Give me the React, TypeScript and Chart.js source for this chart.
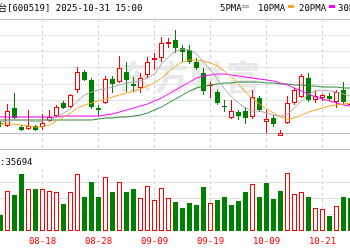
import React, { useEffect, useRef } from "react";
import { Chart, registerables } from "chart.js";

Chart.register(...registerables);

// ---- data (trading days 08-06 .. 10-28) ----
const days = [
  "08-06","08-07","08-08","08-11","08-12","08-13","08-14","08-15",
  "08-18","08-19","08-20","08-21","08-22","08-25","08-26","08-27",
  "08-28","08-29","09-01","09-02","09-03","09-04","09-05","09-08",
  "09-09","09-10","09-11","09-12","09-15","09-16","09-17","09-18",
  "09-19","09-22","09-23","09-24","09-25","09-26","09-29","09-30",
  "10-09","10-10","10-13","10-14","10-15","10-16","10-17","10-20",
  "10-21","10-22","10-23","10-24","10-27","10-28",
];
const tickDays = ["08-18", "08-28", "09-09", "09-19", "10-09", "10-21"];

const openP = [
  1460, 1460.5, 1458.5, 1457, 1466, 1456.5, 1455.5, 1457,
  1456.5, 1459.5, 1462, 1468.5, 1466.5, 1475, 1484, 1480,
  1466, 1468.5, 1480.5, 1479, 1484, 1478, 1476, 1482.5,
  1490, 1491, 1498, 1500, 1496, 1495, 1489, 1483.5,
  1477, 1474, 1467, 1461, 1464, 1464.5, 1461.5, 1471,
  1459, 1461, 1452, 1458.5, 1468.5, 1471.5, 1481, 1470,
  1471, 1472, 1469, 1475, 1467.5, null,
];
const highP = [
  1462, 1461.5, 1459.5, 1468, 1473.5, 1457.5, 1465, 1457.5,
  1463, 1465, 1467.5, 1469.5, 1473, 1486.5, 1485, 1481,
  1467.5, 1482, 1482, 1492, 1489, 1481.5, 1483.5, 1491.5,
  1493.5, 1501.5, 1501, 1505, 1497.5, 1497.5, 1491, 1486,
  1479, 1475, 1470, 1470, 1465, 1466.5, 1475, 1472,
  1465, 1462.5, 1455, 1472, 1476, 1483, 1483.5, 1475,
  1473, 1473.5, 1475, 1479, 1468.5, null,
];
const lowP = [
  1459, 1458, 1456.5, 1456.5, 1460.5, 1454.5, 1455, 1454.5,
  1455, 1459, 1461.5, 1465.5, 1466, 1473.5, 1479.5, 1465.5,
  1462, 1468, 1473.5, 1478.5, 1474, 1474, 1473.5, 1481,
  1485, 1489, 1496, 1493.5, 1489, 1488, 1485, 1472.5,
  1471, 1467.5, 1464, 1460.5, 1460, 1458, 1460.5, 1464,
  1453.5, 1456.5, 1452, 1458, 1467.5, 1471, 1469, 1468.5,
  1469.5, 1469.5, 1466, 1468, 1467, null,
];
const closeP = [
  1461, 1459, 1458, 1464.5, 1461, 1455, 1457, 1455,
  1458.5, 1461.5, 1466.5, 1466, 1472.5, 1484, 1480, 1466.5,
  1465, 1480.5, 1478, 1486, 1480, 1477, 1481, 1489,
  1491, 1498.5, 1499, 1496, 1494, 1489, 1486, 1474.5,
  1477.5, 1468.5, 1466.5, 1464.5, 1462, 1461, 1471.5, 1465,
  1460.5, 1458, 1453.5, 1468.5, 1475, 1482, 1470, 1472,
  1472.5, 1470.5, 1474, 1469, 1468, null,
];
const volume = [
  30000, 35000, 16000, 40000, 36000, 57000, 42000, 42000,
  42000, 40000, 39000, 27000, 39000, 57000, 34000, 49000,
  34000, 54000, 39000, 49000, 39000, 42000, 33000, 45000,
  31000, 43000, 33000, 29000, 23000, 28000, 26000, 44000,
  28000, 31000, 34000, 26000, 30000, 39000, 47000, 34000,
  48000, 32000, 40000, 58000, 37000, 39000, 34000, 23000,
  22000, 15000, 25000, 34000, 33000, null,
];
const ma5 = [
  1458.5, 1458.5, 1459, 1459.5, 1460, 1460, 1459.5, 1459,
  1459.5, 1460, 1461.5, 1463.5, 1465.5, 1469.5, 1472.5, 1474,
  1475, 1475.5, 1476.5, 1477.5, 1478.5, 1479, 1479.5, 1481,
  1483, 1488, 1491.5, 1494.5, 1495.5, 1495, 1493, 1489,
  1485, 1480.5, 1475.5, 1471.5, 1468.5, 1466, 1464.5, 1464.5,
  1463.5, 1462.5, 1462, 1463, 1466, 1469.5, 1473, 1474.5,
  1475, 1474.5, 1474, 1473, 1472, 1471.5,
];
const ma10 = [
  1458, 1458, 1458, 1458, 1458, 1457.5, 1457, 1456.5,
  1456.5, 1457.5, 1459.5, 1461.5, 1463.5, 1466, 1467.5, 1468.5,
  1469.5, 1470.5, 1471.5, 1472.5, 1473.5, 1474.5, 1475.5, 1477,
  1478.5, 1481, 1484, 1487, 1489, 1490, 1490, 1489.5,
  1488.5, 1487, 1484.5, 1481.5, 1478, 1474, 1470.5, 1468,
  1465.5, 1463.5, 1461.5, 1460.5, 1461, 1462.5, 1464, 1465,
  1466, 1467, 1467.5, 1468, 1468.5, 1468.5,
];
const ma20 = [
  1461.5, 1461.5, 1461.5, 1461.5, 1461.5, 1461.5, 1461.5, 1461.5,
  1461.5, 1461.5, 1461.5, 1462, 1462, 1462, 1462, 1462,
  1462, 1462.5, 1463, 1464, 1465, 1466, 1467, 1468,
  1469.5, 1471, 1473, 1475, 1477, 1479, 1481, 1482,
  1482.5, 1483, 1483, 1482.5, 1482, 1481.5, 1481, 1480.5,
  1480, 1479.5, 1478.5, 1477.5, 1476, 1474.5, 1473, 1471.5,
  1470.5, 1469.5, 1468.5, 1467.5, 1467, 1466.5,
];
const ma30 = [
  1460, 1460, 1460, 1460, 1460, 1460, 1460, 1460,
  1460, 1460, 1460, 1460, 1460, 1460, 1460, 1460,
  1460.5, 1461, 1461, 1461.5, 1461.5, 1462, 1462.5, 1463.5,
  1465, 1466.5, 1468.5, 1470.5, 1472.5, 1474.5, 1476, 1477,
  1477.5, 1478, 1478.5, 1478.5, 1479, 1479, 1479, 1479,
  1478.5, 1478.5, 1478, 1478, 1477.5, 1477.5, 1477, 1477,
  1476.5, 1476.5, 1476.5, 1476, 1476, 1476,
];

const stockName = "贵州茅台";
const stockInfo = "[600519] 2025-10-31 15:00";
const volLabel = ":35694";
const watermark = "东方财富";
const maNames = ["5PMA", "10PMA", "20PMA", "30PMA"];
const maColors = ["#a8a8a8", "#f5a623", "#ff00ff", "#2a8a3a"];

const RED = "#ff0000";
const GREEN = "#008000";
const MONO = '"DejaVu Sans Mono", "Noto Sans CJK SC", monospace';

export default function App() {
  const ref = useRef<HTMLCanvasElement>(null);

  useEffect(() => {
    document.body.style.margin = "0";
    const up = closeP.map((c, i) => c != null && openP[i] != null && (c as number) >= (openP[i] as number));
    const volUp = closeP.map((c, i) =>
      i > 0 && c != null && closeP[i - 1] != null ? (c as number) > (closeP[i - 1] as number) : up[i]
    );

    const band = {
      id: "band",
      beforeDatasetsDraw(chart: any) {
        const { ctx, chartArea, scales } = chart;
        const yg = scales.yg;
        const a = Math.round(yg.getPixelForValue(5));
        const b = Math.round(yg.getPixelForValue(4));
        ctx.save();
        ctx.fillStyle = "#ffffff";
        ctx.fillRect(chartArea.left, a + 1, chartArea.width, b - a - 1);
        ctx.restore();
      },
    };

    const chart = new Chart(ref.current!, {
      type: "bar",
      data: {
        labels: days,
        datasets: [
          ...maNames.map((n, k) => ({
            type: "line" as const,
            label: n,
            data: [ma5, ma10, ma20, ma30][k],
            borderColor: maColors[k],
            borderWidth: 1,
            pointRadius: 0,
            tension: 0,
            fill: false,
            yAxisID: "y",
            order: 0,
          })),
          {
            type: "bar" as const,
            label: "body",
            data: openP.map((o, i) => (o == null ? null : [o, closeP[i]])) as any,
            backgroundColor: up.map((u) => (u ? "#ffffff" : GREEN)),
            borderColor: up.map((u) => (u ? RED : GREEN)),
            borderWidth: 1,
            borderSkipped: false,
            barThickness: 5,
            grouped: false,
            inflateAmount: 0,
            yAxisID: "y",
            order: 1,
          },
          {
            type: "bar" as const,
            label: "wick",
            data: lowP.map((l, i) => (l == null ? null : [l, highP[i]])) as any,
            backgroundColor: up.map((u) => (u ? RED : GREEN)),
            borderWidth: 0,
            barThickness: 1,
            grouped: false,
            inflateAmount: 0,
            yAxisID: "y",
            order: 2,
          },
          {
            type: "bar" as const,
            label: "vol",
            data: volume as any,
            backgroundColor: volUp.map((u) => (u ? "#ffffff" : GREEN)),
            borderColor: volUp.map((u) => (u ? RED : GREEN)),
            borderWidth: 1,
            borderSkipped: false,
            barThickness: 5,
            grouped: false,
            inflateAmount: 0,
            yAxisID: "yv",
            order: 1,
          },
        ],
      },
      options: {
        responsive: false,
        animation: false,
        events: [],
        layout: { padding: { top: 19, bottom: 4, left: 0, right: 0 } },
        plugins: { legend: { display: false }, tooltip: { enabled: false } },
        scales: {
          x: {
            type: "category",
            offset: true,
            grid: {
              offset: false,
              drawTicks: true,
              tickLength: 6,
              tickColor: "rgba(0,0,0,0)",
              color: (c: any) =>
                c.tick && tickDays.includes(days[c.index]) ? "#cfcfcf" : "rgba(0,0,0,0)",
            },
            border: { display: false, dash: [3, 3] },
            ticks: {
              autoSkip: false,
              maxRotation: 0,
              padding: 0,
              color: RED,
              font: { family: MONO, size: 9, lineHeight: 1 },
              callback: (_v: any, i: number) => (tickDays.includes(days[i]) ? days[i] : ""),
            },
          },
          yg: {
            type: "linear",
            position: "left",
            min: 0,
            max: 13,
            ticks: { display: false, stepSize: 1 },
            grid: {
              drawTicks: false,
              color: (c: any) => {
                const v = c.tick ? c.tick.value : -1;
                if (v === 0) return "rgba(0,0,0,0)";
                if (v === 13 || v === 6 || v === 5 || v === 4) return "#bdbdbd";
                return "#e2e2e2";
              },
            },
            border: { display: false },
          },
          y: { type: "linear", display: false, min: 1404.5, max: 1510.5 },
          yv: { type: "linear", display: false, min: 0, max: 212000 },
        },
      },
      plugins: [band],
    });
    return () => chart.destroy();
  }, []);

  const legendPos = [
    { t: 220, s: 242, w: 7 },
    { t: 258, s: 288, w: 6 },
    { t: 299, s: 329, w: 6 },
    { t: 338, s: 368, w: 6 },
  ];

  return (
    <div
      style={{
        position: "fixed",
        left: 0,
        top: 0,
        width: 350,
        height: 250,
        overflow: "hidden",
        background: "#ffffff",
        fontFamily: MONO,
        fontSize: 9,
        lineHeight: "12px",
        color: "#000",
      }}
    >
      <div
        style={{
          position: "absolute",
          left: 118,
          top: 56,
          fontFamily: '"Noto Sans CJK SC", sans-serif',
          fontWeight: 700,
          fontSize: 34,
          lineHeight: "40px",
          color: "#e9e9e9",
          whiteSpace: "nowrap",
          letterSpacing: 2,
        }}
      >
        {watermark}
      </div>
      <canvas
        ref={ref}
        width={378}
        height={250}
        style={{ position: "absolute", left: -17, top: 0, width: 378, height: 250 }}
      />
      <div style={{ position: "absolute", left: 7, top: 2, whiteSpace: "nowrap" }}>
        <span style={{ position: "absolute", right: "100%", top: 0 }}>{stockName}</span>
        {stockInfo}
      </div>
      {maNames.map((n, k) => (
        <React.Fragment key={n}>
          <div style={{ position: "absolute", left: legendPos[k].t, top: 2, whiteSpace: "nowrap" }}>{n}</div>
          <div
            style={
              k === 0
                ? {
                    position: "absolute",
                    left: legendPos[k].s,
                    top: 5,
                    width: legendPos[k].w,
                    height: 1,
                    borderTop: `1px solid ${maColors[k]}`,
                    borderBottom: `1px solid ${maColors[k]}`,
                    background: "#e0e0e0",
                  }
                : {
                    position: "absolute",
                    left: legendPos[k].s,
                    top: 5,
                    width: legendPos[k].w,
                    height: 3,
                    background: maColors[k],
                  }
            }
          />
        </React.Fragment>
      ))}
      <div style={{ position: "absolute", left: 0, top: 156, whiteSpace: "nowrap" }}>{volLabel}</div>
    </div>
  );
}
